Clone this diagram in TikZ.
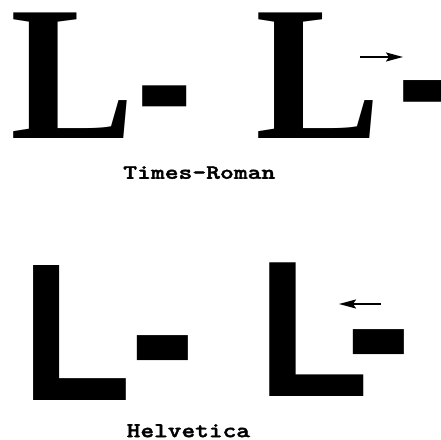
\documentclass[tikz,border=0pt]{standalone}
\usepackage{fontspec}
\usepackage{graphicx}
\usetikzlibrary{arrows.meta}
\newfontfamily\tfam{Liberation Serif}
\newfontfamily\hfam{Liberation Sans}
\newfontfamily\capfam{lmmonolt10-bold.otf}[FakeBold=1.6]
% a box that holds exactly the ink of one glyph
\newdimen\gtop \newdimen\gbot
\newcommand\inkglyph[1]{\kern-\XeTeXglyphbounds1 \XeTeXcharglyph`#1\relax #1\kern-\XeTeXglyphbounds3 \XeTeXcharglyph`#1\relax}
\newcommand\inkbox[1]{%
  \gtop=\XeTeXglyphbounds2 \XeTeXcharglyph`#1\relax
  \gbot=\XeTeXglyphbounds4 \XeTeXcharglyph`#1\relax
  \ifdim\gbot<0pt \gbot=-\gbot\fi
  \raisebox{-\gbot}[\dimexpr\gtop-\gbot\relax][0pt]{\inkglyph{#1}}}
\newcommand\glyphfit[3]{\resizebox{#1pt}{#2pt}{\inkbox{#3}}}
\tikzset{
  glyph/.style={inner sep=0pt, outer sep=0pt, anchor=north west},
  tglyph/.style={glyph, font=\tfam\bfseries\fontsize{190pt}{190pt}\selectfont},
  hglyph/.style={glyph, font=\hfam\bfseries\fontsize{196pt}{196pt}\selectfont},
  caption/.style={inner sep=0pt, outer sep=0pt, anchor=south west, font=\capfam\fontsize{22pt}{22pt}\selectfont},
  kernarrow/.style={line width=1.8pt, -{Stealth[length=17pt, width=9pt, inset=3pt]}},
}
\begin{document}
\begin{tikzpicture}[x=1pt, y=1pt]
\useasboundingbox (0,0) rectangle (441,439);
\clip (0,0) rectangle (441,439);
% Times-Roman row
\node[tglyph] (L1) at (13.3,426.3) {\glyphfit{113.5}{125.6}{L}};
\node[tglyph] (H1) at (142.5,353) {\glyphfit{44}{21}{-}};
\node[tglyph] (L2) at (258.4,426.3) {\glyphfit{114.5}{125.6}{L}};
\node[tglyph] (H2) at (404,358) {\glyphfit{44}{21.7}{-}};
\coordinate (a1s) at (360,382);
\coordinate (a1e) at (403,382);
\draw[kernarrow] (a1s) -- (a1e);
\node[caption] (cap1) at (123.3,260) {\resizebox{152pt}{12.5pt}{Times-Roman}};
% Helvetica row
\node[hglyph] (L3) at (34,174) {\glyphfit{92.7}{135}{L}};
\node[hglyph] (H3) at (137,103) {\glyphfit{51}{25}{-}};
\node[hglyph] (L4) at (269.3,176.7) {\glyphfit{94}{133.7}{L}};
\node[hglyph] (H4) at (353.5,109) {\glyphfit{51}{25}{-}};
\coordinate (a2s) at (381,135);
\coordinate (a2e) at (339,135);
\draw[kernarrow] (a2s) -- (a2e);
\node[caption] (cap2) at (126.7,1.7) {\resizebox{123.3pt}{13pt}{Helvetica}};
\end{tikzpicture}
\end{document}
